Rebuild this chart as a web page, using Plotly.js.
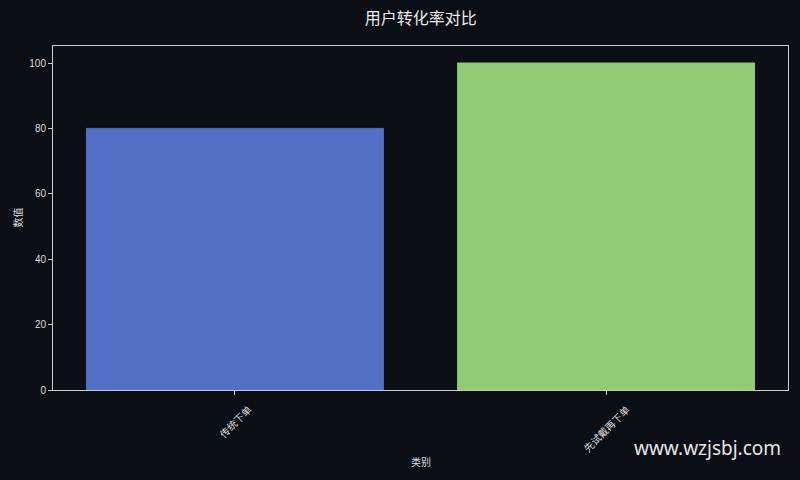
<!DOCTYPE html>
<html>
<head>
<meta charset="utf-8">
<script src="https://cdn.plot.ly/plotly-3.0.1.min.js"></script>
<style>
html,body{margin:0;padding:0;background:#0b0e14;}
#chart{width:800px;height:480px;}
</style>
</head>
<body>
<div id="chart"></div>
<script>
const categories = ["传统下单", "先试戴再下单"];
const values = [80, 100];
const barColors = ["#5470c6", "#91cc75"];
const yTicks = [0, 20, 40, 60, 80, 100];

const cjk = '"Noto Sans CJK SC", "Liberation Sans", sans-serif';
const latin = '"Liberation Sans", Arial, sans-serif';
const txt = '#dcdcdc';

const trace = {
  type: 'bar',
  x: [0, 1],
  y: values,
  width: 0.8,
  marker: {color: barColors, line: {color: barColors, width: 1}},
  hoverinfo: 'none'
};

// plot area in pixels: l=52.5, r=788, t=46, b=390.5
const catAnn = categories.map((c, i) => ({
  text: c, xref: 'x', yref: 'paper', x: i, y: -0.026,
  xanchor: 'center', yanchor: 'top', textangle: -45, showarrow: false,
  font: {family: cjk, size: 10, color: txt}
}));

const layout = {
  width: 800, height: 480,
  paper_bgcolor: '#0b0e14',
  plot_bgcolor: '#0b0e14',
  margin: {l: 52.5, r: 12, t: 46, b: 89.5},
  title: {text: '用户转化率对比', x: 0.526, xanchor: 'center', y: 0.9625, yanchor: 'middle',
          font: {family: cjk, size: 16, color: '#ececec'}},
  font: {family: cjk, color: txt},
  xaxis: {
    range: [-0.49, 1.49],
    tickmode: 'array', tickvals: [0, 1], showticklabels: false,
    ticks: 'outside', ticklen: 4, tickcolor: '#cccccc', tickwidth: 1,
    showgrid: false, zeroline: false,
    showline: true, linecolor: '#cccccc', linewidth: 1, mirror: true
  },
  yaxis: {
    range: [0, 105.2],
    tickmode: 'array', tickvals: yTicks,
    ticks: 'outside', ticklen: 4, tickcolor: '#cccccc', tickwidth: 1,
    tickfont: {size: 10, color: txt, family: latin},
    showgrid: false, zeroline: false,
    showline: true, linecolor: '#cccccc', linewidth: 1, mirror: true
  },
  annotations: catAnn.concat([
    {text: '类别', xref: 'paper', yref: 'paper', x: 0.5, y: -0.2075,
     xanchor: 'center', yanchor: 'middle', showarrow: false,
     font: {family: cjk, size: 10, color: txt}},
    {text: '数值', xref: 'paper', yref: 'paper', x: -0.0496, y: 0.5,
     xanchor: 'center', yanchor: 'middle', textangle: -90, showarrow: false,
     font: {family: cjk, size: 10, color: txt}},
    {text: 'www.wzjsbj.com', xref: 'paper', yref: 'paper',
     x: 0.993, y: -0.170, xanchor: 'right', yanchor: 'middle', showarrow: false,
     font: {family: '"Noto Sans", "Open Sans", sans-serif', size: 19, color: '#e6e6e6'}}
  ]),
  showlegend: false
};
Plotly.newPlot('chart', [trace], layout, {displayModeBar: false, staticPlot: true});
</script>
</body>
</html>
